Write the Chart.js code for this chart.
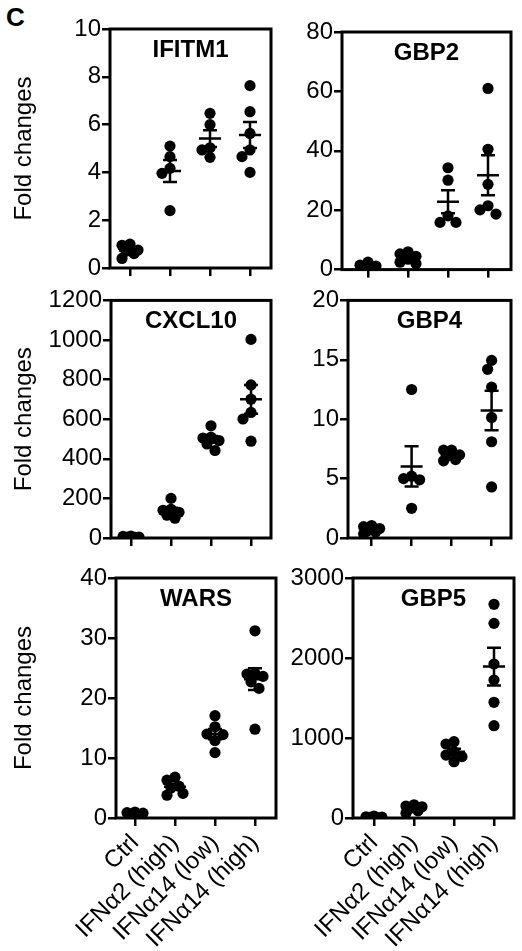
<!DOCTYPE html>
<html><head><meta charset="utf-8">
<script src="https://cdn.jsdelivr.net/npm/chart.js@4.4.1/dist/chart.umd.min.js"></script>
<style>
html,body{margin:0;padding:0;background:#fff;}
body{width:522px;height:951px;position:relative;overflow:hidden;font-family:"Liberation Sans",Arial,sans-serif;}
.panel{position:absolute;}
.panel canvas{display:block;}
#lbl{position:absolute;left:6px;top:4px;font:bold 26px "Liberation Sans",Arial,sans-serif;line-height:1;color:#000;}
</style></head><body>
<div id="lbl">C</div>
<div class="panel" id="p0"><canvas id="c0"></canvas></div>
<div class="panel" id="p1"><canvas id="c1"></canvas></div>
<div class="panel" id="p2"><canvas id="c2"></canvas></div>
<div class="panel" id="p3"><canvas id="c3"></canvas></div>
<div class="panel" id="p4"><canvas id="c4"></canvas></div>
<div class="panel" id="p5"><canvas id="c5"></canvas></div>
<script>
// ---------- DATA ----------
const categories = ['Ctrl', 'IFNα2 (high)', 'IFNα14 (low)', 'IFNα14 (high)'];
const yLabel = 'Fold changes';

// each gene: one array of fold changes per category (Ctrl, IFNα2 high, IFNα14 low, IFNα14 high)
const ifitm1 = [[1.0, 0.95, 0.75, 0.7, 0.6, 0.4], [5.1, 4.66, 4.17, 3.96, 2.4], [6.47, 6.0, 5.03, 4.94, 4.63], [7.63, 6.54, 5.63, 4.94, 4.66, 4.0]];
const gbp2   = [[2.5, 1.5, 1.2, 1.0, 0.8, 0.5], [6.0, 5.3, 4.5, 3.5, 2.5, 2.0], [34.3, 30.1, 18.1, 15.9, 15.9], [61, 40.5, 28.7, 21.5, 20.1, 18.7]];
const cxcl10 = [[10, 8, 5, 4, 3, 2], [200, 145, 140, 130, 115, 100], [567, 509, 505, 492, 475, 442], [1003, 773, 701, 634, 601, 489]];
const gbp4   = [[1.05, 0.95, 0.8, 0.6, 0.5, 0.35], [12.5, 5.2, 5.0, 4.9, 2.5], [7.4, 7.4, 7.0, 6.9, 6.6, 6.5], [14.95, 14.2, 12.7, 10.15, 8.1, 4.3]];
const wars   = [[1.0, 0.9, 0.8, 0.7, 0.6, 0.5], [6.8, 6.3, 5.3, 5.0, 4.1, 3.8], [17.05, 15.2, 14.0, 13.9, 12.9, 10.9], [31.2, 24.1, 24.0, 23.6, 22.7, 21.6, 14.8]];
const gbp5   = [[25, 15, 10, 8, 5, 3], [165, 150, 140, 120, 90, 60], [954, 925, 829, 787, 767, 704], [2671, 2433, 1925, 1725, 1446, 1154]];

// y tick labels
const ticksIfitm1 = [0, 2, 4, 6, 8, 10];
const ticksGbp2   = [0, 20, 40, 60, 80];
const ticksCxcl10 = [0, 200, 400, 600, 800, 1000, 1200];
const ticksGbp4   = [0, 5, 10, 15, 20];
const ticksWars   = [0, 10, 20, 30, 40];
const ticksGbp5   = [0, 1000, 2000, 3000];

// ---------- LAYOUT ----------
const FONT = "'Liberation Sans', Arial, sans-serif";
Chart.defaults.font.family = FONT;
Chart.defaults.color = '#000';

const panels = [
  {title: 'IFITM1', data: ifitm1, ticks: ticksIfitm1, box: [0, 0, 282, 285],   area: [110, 29, 271, 268],  xr: [-0.5, 3.525],  ytitle: true,  xlabels: false},
  {title: 'GBP2',   data: gbp2,   ticks: ticksGbp2,   box: [282, 0, 522, 285], area: [342, 32, 511, 271],  xr: [-0.65, 3.575], ytitle: false, xlabels: false},
  {title: 'CXCL10', data: cxcl10, ticks: ticksCxcl10, box: [0, 285, 282, 560], area: [111, 299, 271, 538], xr: [-0.5, 3.5],    ytitle: true,  xlabels: false},
  {title: 'GBP4',   data: gbp4,   ticks: ticksGbp4,   box: [282, 285, 522, 560], area: [348, 299, 511, 538], xr: [-0.59, 3.485], ytitle: false, xlabels: false},
  {title: 'WARS',   data: wars,   ticks: ticksWars,   box: [0, 560, 282, 951], area: [116, 578, 276, 818], xr: [-0.475, 3.525], ytitle: true,  xlabels: true},
  {title: 'GBP5',   data: gbp5,   ticks: ticksGbp5,   box: [282, 560, 522, 951], area: [353, 578, 514, 818], xr: [-0.525, 3.5],  ytitle: false, xlabels: true}
];

// simple beeswarm (pixel space) so overlapping dots spread sideways
function swarm(values, pyPerUnit) {
  const minDist = 9.5, step = 4, maxOff = 11;
  const placed = [];
  const offs = new Array(values.length).fill(0);
  const order = values.map((v, i) => i).sort((a, b) => values[b] - values[a]);
  for (const i of order) {
    const y = values[i] * pyPerUnit;
    let best = 0, bestD = -1;
    for (let k = 0; ; k++) {
      const dx = k === 0 ? 0 : (k % 2 ? -1 : 1) * Math.ceil(k / 2) * step;
      if (Math.abs(dx) > maxOff) break;
      const d = placed.length ? Math.min(...placed.map(p => Math.hypot(p.x - dx, p.y - y))) : Infinity;
      if (d >= minDist) { best = dx; bestD = d; break; }
      if (d > bestD) { bestD = d; best = dx; }
    }
    placed.push({x: best, y});
    offs[i] = best;
  }
  return offs;
}

const framePlugin = {
  id: 'frame',
  beforeDatasetsDraw(chart) {
    const {ctx, chartArea: a} = chart;
    ctx.save();
    ctx.strokeStyle = '#000';
    ctx.lineWidth = 3;
    ctx.strokeRect(a.left, a.top, a.right - a.left, a.bottom - a.top);
    ctx.restore();
  }
};

const meanSemPlugin = {
  id: 'meanSem',
  afterDatasetsDraw(chart, args, opts) {
    const {ctx, scales: {x, y}} = chart;
    ctx.save();
    ctx.strokeStyle = '#000';
    ctx.lineWidth = 2.5;
    (opts.groups || []).forEach((vals, i) => {
      const n = vals.length;
      const m = vals.reduce((s, v) => s + v, 0) / n;
      const sd = Math.sqrt(vals.reduce((s, v) => s + (v - m) * (v - m), 0) / (n - 1));
      const se = sd / Math.sqrt(n);
      const cx = x.getPixelForValue(i);
      const ym = y.getPixelForValue(m), yt = y.getPixelForValue(m + se), yb = y.getPixelForValue(m - se);
      ctx.beginPath();
      ctx.moveTo(cx - 11, ym); ctx.lineTo(cx + 11, ym);
      ctx.moveTo(cx, yt); ctx.lineTo(cx, yb);
      ctx.moveTo(cx - 7, yt); ctx.lineTo(cx + 7, yt);
      ctx.moveTo(cx - 7, yb); ctx.lineTo(cx + 7, yb);
      ctx.stroke();
    });
    ctx.restore();
  }
};

const titlePlugin = {
  id: 'panelTitle',
  afterDraw(chart, args, opts) {
    const {ctx, chartArea: a} = chart;
    ctx.save();
    ctx.font = 'bold 24px ' + FONT;
    ctx.fillStyle = '#000';
    ctx.textAlign = 'center';
    ctx.textBaseline = 'middle';
    ctx.fillText(opts.text, (a.left + a.right) / 2, a.top + 21);
    ctx.restore();
  }
};

panels.forEach((p, idx) => {
  const [bl, bt, br, bb] = p.box;
  const [L, T, R, B] = p.area;
  const W = br - bl, H = bb - bt;
  const div = document.getElementById('p' + idx);
  div.style.left = bl + 'px'; div.style.top = bt + 'px';
  div.style.width = W + 'px'; div.style.height = H + 'px';
  const cv = document.getElementById('c' + idx);
  cv.width = W; cv.height = H; cv.style.width = W + 'px'; cv.style.height = H + 'px';

  const ymax = p.ticks[p.ticks.length - 1];
  const pyPerUnit = (B - T) / ymax;
  const pxPerUnit = (R - L) / (p.xr[1] - p.xr[0]);
  const pts = [];
  p.data.forEach((vals, gi) => {
    const offs = swarm(vals, pyPerUnit);
    vals.forEach((v, j) => pts.push({x: gi + offs[j] / pxPerUnit, y: v}));
  });

  const axisH = bb - B;
  const axisW = L - bl;
  const tickFont = {size: 24, family: FONT};

  new Chart(cv, {
    type: 'scatter',
    data: {datasets: [{data: pts, backgroundColor: '#000', borderWidth: 0, pointRadius: 5.6, pointHoverRadius: 5.6}]},
    options: {
      responsive: false, animation: false, devicePixelRatio: 1,
      layout: {padding: {left: 0, top: T - bt, right: br - R, bottom: 0}},
      plugins: {
        legend: {display: false}, tooltip: {enabled: false},
        meanSem: {groups: p.data}, panelTitle: {text: p.title}
      },
      scales: {
        x: {
          type: 'linear', min: p.xr[0], max: p.xr[1],
          afterBuildTicks: s => { s.ticks = categories.map((c, i) => ({value: i})); },
          afterFit: s => { s.height = axisH; },
          grid: {drawOnChartArea: false, drawTicks: true, tickLength: 8, lineWidth: 2.5, color: '#000'},
          border: {display: false},
          ticks: {autoSkip: false, minRotation: 45, maxRotation: 45, padding: 3, color: '#000', font: tickFont,
                  callback: v => p.xlabels ? categories[v] : ''}
        },
        y: {
          min: 0, max: ymax,
          afterBuildTicks: s => { s.ticks = p.ticks.map(v => ({value: v})); },
          afterFit: s => { s.width = axisW; },
          grid: {drawOnChartArea: false, drawTicks: true, tickLength: 8, lineWidth: 2.5, color: '#000'},
          border: {display: false},
          ticks: {padding: 1, color: '#000', font: tickFont, callback: v => String(v)},
          title: {display: p.ytitle, text: yLabel, color: '#000', font: {size: 24, family: FONT}, padding: {top: 10, bottom: 0}}
        }
      }
    },
    plugins: [framePlugin, meanSemPlugin, titlePlugin]
  });
});
</script>
</body></html>
